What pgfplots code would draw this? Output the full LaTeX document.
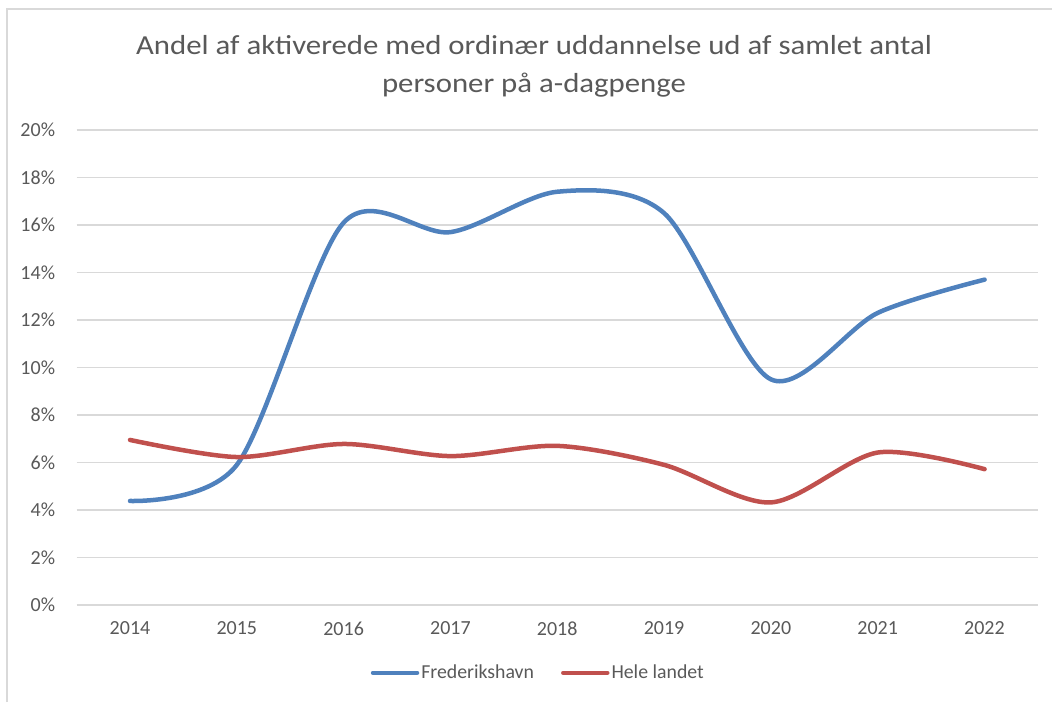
\documentclass[border=0pt]{standalone}
\usepackage{pgfplots}
\pgfplotsset{compat=1.18}
\usepackage{fontspec}
\setmainfont{Carlito}
\definecolor{cblue}{HTML}{4F81BD}
\definecolor{cred}{HTML}{C0504D}
\definecolor{cgrid}{HTML}{D9D9D9}
\definecolor{ctext}{HTML}{595959}
\begin{document}
\begin{tikzpicture}[x=1pt,y=1pt]
\useasboundingbox (0,0) rectangle (1052,702);
\draw[cgrid, line width=2pt] (7,0) -- (7,693) -- (1052,693);
\node[text=ctext, font=\fontsize{27.5}{32}\selectfont, xscale=1.12] at (534,657) {Andel af aktiverede med ordinær uddannelse ud af samlet antal};
\node[text=ctext, font=\fontsize{27.5}{32}\selectfont, xscale=1.12] at (534,617) {personer på a-dagpenge};
\begin{axis}[
  at={(76.6pt,97pt)}, anchor=south west,
  scale only axis, width=961.4pt, height=475pt,
  xmin=2013.5, xmax=2022.5, ymin=0, ymax=20,
  xtick={2014,...,2022},
  xticklabel style={/pgf/number format/1000 sep={}},
  ytick={0,2,...,20},
  yticklabel={\pgfmathprintnumber{\tick}\%},
  /pgf/number format/assume math mode=true,
  tick label style={text=ctext, font=\fontsize{20}{24}\selectfont},
  xticklabel style={yshift=-13pt},
  yticklabel style={xshift=-18pt},
  axis line style={draw=none},
  axis x line*=bottom,
  major tick length=0pt,
  ymajorgrids, grid style={cgrid, line width=1.5pt},
  clip=false,
  legend style={at={(0.5,-0.0)}, anchor=north, yshift=-56pt, xshift=-19pt, draw=none, fill=none,
    font=\fontsize{19.8}{24}\selectfont, text=ctext, legend columns=2,
    /tikz/every even column/.append style={column sep=25pt}},
  legend image code/.code={\draw[#1, line width=4.5pt, line cap=round] (0pt,0pt) -- (44pt,0pt);},
  legend cell align=left,
]
\addplot[cblue, line width=4.5pt, smooth, tension=0.5, line cap=round] coordinates {
 (2014,4.38) (2015,5.9) (2016,16.1) (2017,15.7) (2018,17.4) (2019,16.5) (2020,9.5) (2021,12.3) (2022,13.7)};
\addlegendentry{Frederikshavn}
\addplot[cred, line width=4.5pt, smooth, tension=0.5, line cap=round] coordinates {
 (2014,6.95) (2015,6.23) (2016,6.78) (2017,6.27) (2018,6.7) (2019,5.9) (2020,4.32) (2021,6.42) (2022,5.72)};
\addlegendentry{Hele landet}
\end{axis}
\end{tikzpicture}
\end{document}
